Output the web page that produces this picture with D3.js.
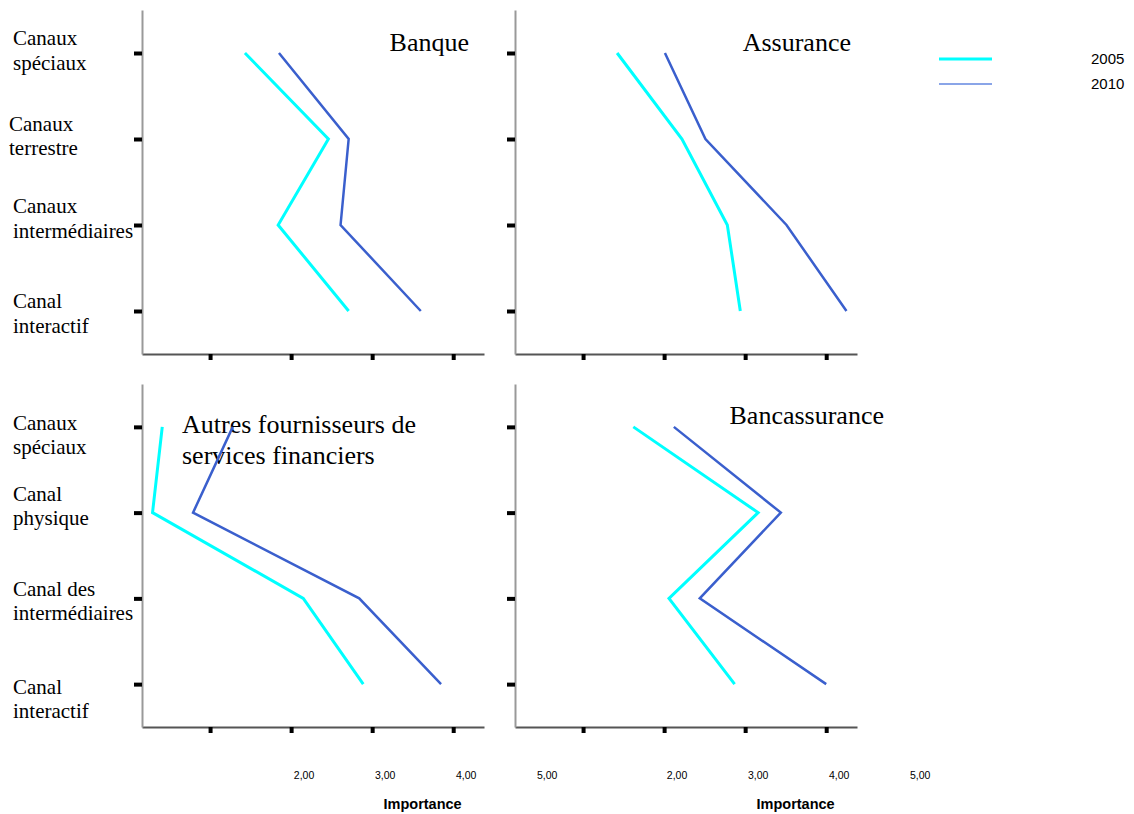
<!DOCTYPE html>
<html>
<head>
<meta charset="utf-8">
<script src="https://cdn.jsdelivr.net/npm/d3@7"></script>
<style>
  html, body { margin: 0; padding: 0; background: #fff; }
  svg { display: block; }
</style>
</head>
<body>
<svg id="chart" width="1134" height="814"></svg>
<script>
// ---------- DATA ----------
const categoriesTop = ["Canaux spéciaux", "Canaux terrestre", "Canaux intermédiaires", "Canal interactif"];
const categoriesBottom = ["Canaux spéciaux", "Canal physique", "Canal des intermédiaires", "Canal interactif"];
const seriesNames = ["2005", "2010"];
const tickValues = [2, 3, 4, 5];
const tickLabels = ["2,00", "3,00", "4,00", "5,00"];
const axisTitle = "Importance";

const banque2005 = [2.43, 3.46, 2.84, 3.71];
const banque2010 = [2.85, 3.71, 3.61, 4.60];
const assurance2005 = [2.42, 3.22, 3.78, 3.94];
const assurance2010 = [3.01, 3.51, 4.51, 5.25];
const autres2005 = [1.41, 1.29, 3.15, 3.89];
const autres2010 = [2.28, 1.79, 3.84, 4.85];
const bancass2005 = [2.62, 4.16, 3.06, 3.87];
const bancass2010 = [3.12, 4.44, 3.44, 5.00];

// ---------- LAYOUT ----------
const xDomain = [1.16, 5.38];
const colors = ["#00ffff", "#3a5fcd"];
const widths = [3, 2.5];

const panels = [
  { title: ["Banque"], cats: categoriesTop, s: [banque2005, banque2010],
    left: 142, right: 484, top: 10, bottom: 354,
    titleX: 469, titleY: 51, anchor: "end", labels: true,
    labelX: [13, 9, 13, 13], labelDy: [[-8, 17], [-8, 16], [-12, 13], [-3, 22]] },
  { title: ["Assurance"], cats: categoriesTop, s: [assurance2005, assurance2010],
    left: 515, right: 857, top: 10, bottom: 354,
    titleX: 851, titleY: 51, anchor: "end", labels: false },
  { title: ["Autres fournisseurs de", "services financiers"], cats: categoriesBottom, s: [autres2005, autres2010],
    left: 142, right: 484, top: 384, bottom: 727,
    titleX: 182, titleY: 433, anchor: "start", labels: true,
    labelX: [13, 13, 13, 13], labelDy: [[3, 27], [-12, 12], [-2, 22], [10, 34]] },
  { title: ["Bancassurance"], cats: categoriesBottom, s: [bancass2005, bancass2010],
    left: 515, right: 857, top: 384, bottom: 727,
    titleX: 884, titleY: 424, anchor: "end", labels: false }
];

const svg = d3.select("#chart");

function splitLabel(t) {
  const parts = t.split(" ");
  const last = parts.pop();
  return [parts.join(" "), last];
}

panels.forEach(p => {
  const x = d3.scaleLinear().domain(xDomain).range([p.left, p.right]);
  const y = d3.scalePoint().domain(p.cats).range([p.top, p.bottom]).padding(0.5);
  const g = svg.append("g");

  // x axis
  const gx = g.append("g").attr("transform", `translate(0,${p.bottom})`)
    .call(d3.axisBottom(x).tickValues(tickValues).tickSize(6).tickSizeOuter(0).tickFormat(""));
  gx.select(".domain").attr("stroke", "#555").attr("stroke-width", 2);
  gx.selectAll(".tick line").attr("stroke", "#000").attr("stroke-width", 4);

  // y axis
  const gy = g.append("g").attr("transform", `translate(${p.left},0)`)
    .call(d3.axisLeft(y).tickSize(8).tickSizeOuter(0).tickFormat(""));
  gy.select(".domain").attr("stroke", "#999").attr("stroke-width", 2);
  gy.selectAll(".tick line").attr("stroke", "#000").attr("stroke-width", 4);

  // title
  const tt = g.append("text")
    .attr("x", p.titleX).attr("y", p.titleY)
    .attr("text-anchor", p.anchor)
    .attr("font-family", "'Liberation Serif', 'Times New Roman', serif")
    .attr("font-size", 26).attr("fill", "#000");
  p.title.forEach((line, i) => {
    tt.append("tspan").attr("x", p.titleX).attr("dy", i === 0 ? 0 : 31).text(line);
  });

  // category labels
  if (p.labels) {
    p.cats.forEach((c, i) => {
      const lines = splitLabel(c);
      const t = g.append("text")
        .attr("font-family", "'Liberation Serif', 'Times New Roman', serif")
        .attr("font-size", 21).attr("fill", "#000");
      lines.forEach((ln, j) => {
        t.append("tspan").attr("x", p.labelX[i]).attr("y", y(c) + p.labelDy[i][j]).text(ln);
      });
    });
  }

  // series lines
  const line = d3.line().x(d => x(d.v)).y(d => y(d.c));
  p.s.forEach((vals, k) => {
    g.append("path")
      .datum(p.cats.map((c, i) => ({ c, v: vals[i] })))
      .attr("d", line)
      .attr("fill", "none")
      .attr("stroke", colors[k])
      .attr("stroke-width", widths[k])
      .attr("stroke-linejoin", "miter");
  });
});

// bottom tick labels (offset as in original) and axis titles
[{ left: 142, right: 484 }, { left: 515, right: 857 }].forEach(p => {
  const x = d3.scaleLinear().domain(xDomain).range([p.left, p.right]);
  const shift = 94;
  tickValues.forEach((v, i) => {
    svg.append("text")
      .attr("x", x(v) + shift).attr("y", 779)
      .attr("text-anchor", "middle")
      .attr("font-family", "'Liberation Sans', Arial, sans-serif")
      .attr("font-size", 10.5).attr("fill", "#000")
      .text(tickLabels[i]);
  });
  svg.append("text")
    .attr("x", x(2.5) + shift + 78).attr("y", 809)
    .attr("text-anchor", "middle")
    .attr("font-family", "'Liberation Sans', Arial, sans-serif")
    .attr("font-size", 14.5).attr("font-weight", "bold").attr("fill", "#000")
    .text(axisTitle);
});

// legend
const legendColors = ["#00ffff", "#8aa5e8"];
const legendWidths = [3, 2];
seriesNames.forEach((name, i) => {
  const ly = 59 + i * 25;
  svg.append("line")
    .attr("x1", 939).attr("x2", 992).attr("y1", ly).attr("y2", ly)
    .attr("stroke", legendColors[i]).attr("stroke-width", legendWidths[i]);
  svg.append("text")
    .attr("x", 1091).attr("y", ly + 5)
    .attr("font-family", "'Liberation Sans', Arial, sans-serif")
    .attr("font-size", 15).attr("fill", "#000")
    .text(name);
});
</script>
</body>
</html>
